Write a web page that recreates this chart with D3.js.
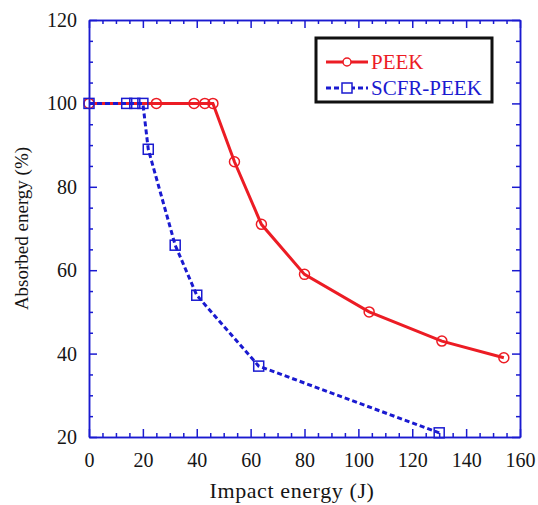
<!DOCTYPE html>
<html>
<head>
<meta charset="utf-8">
<script src="https://cdn.jsdelivr.net/npm/d3@7"></script>
<style>
  body { margin: 0; background: #fff; }
  text { font-family: "Liberation Serif", "Times New Roman", serif; }
</style>
</head>
<body>
<div id="chart"></div>
<script>
const width = 538, height = 505;
const margin = {top: 20, right: 18, bottom: 68, left: 89};

// data
const peekX = [0, 25, 39, 43, 46, 54, 64, 80, 104, 131, 154];
const peekY = [100, 100, 100, 100, 100, 86, 71, 59, 50, 43, 39];
const scfrX = [0, 14, 17, 20, 22, 32, 40, 63, 130];
const scfrY = [100, 100, 100, 100, 89, 66, 54, 37, 21];
const xTicks = [0, 20, 40, 60, 80, 100, 120, 140, 160];
const yTicks = [20, 40, 60, 80, 100, 120];
const seriesNames = ["PEEK", "SCFR-PEEK"];

const red = "#ec1c24", blue = "#1a1ad0";

const peek = peekX.map((x, i) => ({x: x, y: peekY[i]}));
const scfr = scfrX.map((x, i) => ({x: x, y: scfrY[i]}));

let svg = d3.select("#chart").
append("svg").
attr("width", width).
attr("height", height);

const x = d3.scaleLinear().domain([0, 160]).range([margin.left, width - margin.right]);
const y = d3.scaleLinear().domain([20, 120]).range([height - margin.bottom, margin.top]);

const minorX = d3.range(0, 161, 5).filter(d => d % 20 != 0);
const minorY = d3.range(20, 121, 5).filter(d => d % 20 != 0);

function styleAxis(g) {
  g.selectAll("path, line").attr("stroke", blue).attr("stroke-width", 1.5);
  g.selectAll("text").attr("fill", "#151515").style("font-size", "20px");
}

// bottom axis, ticks inward
svg.append("g").
attr("transform", "translate(0," + y(20) + ")").
call(d3.axisBottom(x).tickValues(xTicks).tickSize(-8).tickPadding(16).tickSizeOuter(0)).
call(styleAxis);
svg.append("g").
attr("transform", "translate(0," + y(20) + ")").
call(d3.axisBottom(x).tickValues(minorX).tickSize(-4).tickFormat("").tickSizeOuter(0)).
call(styleAxis);

// top axis
svg.append("g").
attr("transform", "translate(0," + y(120) + ")").
call(d3.axisTop(x).tickValues(xTicks).tickSize(-8).tickFormat("").tickSizeOuter(0)).
call(styleAxis);
svg.append("g").
attr("transform", "translate(0," + y(120) + ")").
call(d3.axisTop(x).tickValues(minorX).tickSize(-4).tickFormat("").tickSizeOuter(0)).
call(styleAxis);

// left axis
svg.append("g").
attr("transform", "translate(" + x(0) + ",0)").
call(d3.axisLeft(y).tickValues(yTicks).tickSize(-8).tickPadding(12).tickSizeOuter(0)).
call(styleAxis);
svg.append("g").
attr("transform", "translate(" + x(0) + ",0)").
call(d3.axisLeft(y).tickValues(minorY).tickSize(-4).tickFormat("").tickSizeOuter(0)).
call(styleAxis);

// right axis
svg.append("g").
attr("transform", "translate(" + x(160) + ",0)").
call(d3.axisRight(y).tickValues(yTicks).tickSize(-8).tickFormat("").tickSizeOuter(0)).
call(styleAxis);
svg.append("g").
attr("transform", "translate(" + x(160) + ",0)").
call(d3.axisRight(y).tickValues(minorY).tickSize(-4).tickFormat("").tickSizeOuter(0)).
call(styleAxis);

// axis titles
svg.append("text").
attr("x", 292).
attr("y", 498).
attr("text-anchor", "middle").
style("font-size", "22px").
style("letter-spacing", "0.6px").
attr("fill", "#151515").
text("Impact energy (J)");

svg.append("text").
attr("transform", "translate(28," + (y(70)) + ") rotate(-90)").
attr("text-anchor", "middle").
style("font-size", "19px").
attr("fill", "#151515").
text("Absorbed energy (%)");

const line = d3.line().x(d => x(d.x)).y(d => y(d.y));

// PEEK
svg.append("path").
datum(peek).
attr("d", line).
attr("fill", "none").
attr("stroke", red).
attr("stroke-width", 3);
svg.selectAll(".peek").
data(peek).
enter().
append("circle").
attr("class", "peek").
attr("cx", d => x(d.x)).
attr("cy", d => y(d.y)).
attr("r", 5).
attr("fill", "none").
attr("stroke", red).
attr("stroke-width", 1.5);

// SCFR-PEEK
svg.append("path").
datum(scfr).
attr("d", line).
attr("fill", "none").
attr("stroke", blue).
attr("stroke-width", 3).
attr("stroke-dasharray", "5,3");
svg.selectAll(".scfr").
data(scfr).
enter().
append("rect").
attr("class", "scfr").
attr("x", d => x(d.x) - 5).
attr("y", d => y(d.y) - 5).
attr("width", 10).
attr("height", 10).
attr("fill", "none").
attr("stroke", blue).
attr("stroke-width", 1.5);

// legend
const legend = svg.append("g");
legend.append("rect").
attr("x", 316).
attr("y", 38).
attr("width", 176).
attr("height", 64).
attr("fill", "#fff").
attr("stroke", "#111").
attr("stroke-width", 3);

const legColors = [red, blue];
seriesNames.forEach((name, i) => {
  const ly = 62 + i * 26;
  legend.append("line").
  attr("x1", 326).attr("x2", 368).
  attr("y1", ly).attr("y2", ly).
  attr("stroke", legColors[i]).
  attr("stroke-width", 3).
  attr("stroke-dasharray", i == 1 ? "5,3" : null);
  if (i == 0) {
    legend.append("circle").
    attr("cx", 347).attr("cy", ly).attr("r", 4).
    attr("fill", "#fff").attr("stroke", red).attr("stroke-width", 1.5);
  } else {
    legend.append("rect").
    attr("x", 342).attr("y", ly - 5).attr("width", 10).attr("height", 10).
    attr("fill", "#fff").attr("stroke", blue).attr("stroke-width", 1.5);
  }
  legend.append("text").
  attr("x", 371).
  attr("y", ly + 7).
  attr("fill", legColors[i]).
  style("font-size", "21px").
  text(name);
});
</script>
</body>
</html>
